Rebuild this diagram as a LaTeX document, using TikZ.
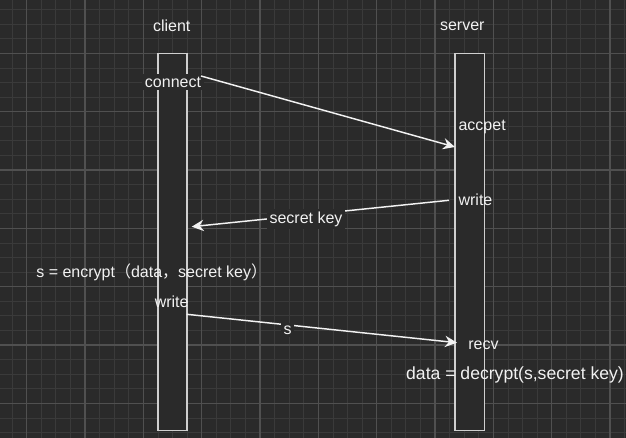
\documentclass[tikz,border=0pt]{standalone}
\usepackage{fontspec}
\setmainfont{Liberation Sans}
\newfontfamily\cjk{Noto Sans CJK SC}
\usetikzlibrary{arrows.meta}

\definecolor{bgdark}{HTML}{2A2A2A}
\definecolor{gridminor}{HTML}{3A3A3A}
\definecolor{gridmajor}{HTML}{505050}
\definecolor{boxline}{HTML}{CFCFCF}
\definecolor{txt}{HTML}{F2F2F2}

\begin{document}
\begin{tikzpicture}[x=0.75pt, y=-0.75pt]
        \tikzset{
            life/.style={draw=boxline, fill=bgdark, line width=1.1pt, minimum height=283pt, minimum width=21.8pt, inner sep=0pt},
            lbl/.style={text=txt, font=\fontsize{12}{14}\selectfont, inner sep=1pt},
            tag/.style={lbl, fill=bgdark, inner sep=2pt},
            msg/.style={draw=txt, line width=1.1pt, -{Stealth[length=9pt, width=8.5pt, inset=3pt]}}
        }

        % Background grid
        \useasboundingbox (0,0) rectangle (626,438);
        \fill[bgdark] (0,0) rectangle (626,438);
        \foreach \i in {-1,...,41}
            \draw[gridminor, line width=0.6pt] ({26.67+14.583*\i},0) -- ++(0,438);
        \foreach \i in {-3,...,26}
            \draw[gridminor, line width=0.6pt] (0,{53.33+14.583*\i}) -- ++(626,0);
        \foreach \i in {0,...,10}
            \draw[gridmajor, line width=0.8pt] ({26.67+58.33*\i},0) -- ++(0,438);
        \foreach \i in {0,...,6}
            \draw[gridmajor, line width=0.8pt] (0,{53.33+58.33*\i}) -- ++(626,0);

        % Lifelines
        \node[lbl] (client) at (171.7,26) {client};
        \node[lbl] (server) at (462.3,26) {server};
        \node[life] (clientbox) at (172.5,242) {};
        \node[life] (serverbox) at (469.7,242) {};

        % Points on the lifelines
        \coordinate (conOut) at (201,76);
        \coordinate (accIn) at (455,147);
        \coordinate (keyOut) at (449,200.3);
        \coordinate (keyIn) at (191.7,226.7);
        \coordinate (sOut) at (186.7,314.3);
        \coordinate (sIn) at (457,342.7);

        % Client side
        \node[tag] (connect) at (173,82) {connect};
        \node[lbl] (encrypt) at (151.7,272.7) {s = encrypt{\cjk （}data{\cjk ，}secret key{\cjk ）}};
        \node[lbl] (cwrite) at (171.7,301.7) {write};

        % Server side
        \node[lbl, anchor=west] (accept) at (457,127.3) {accpet};
        \node[lbl, anchor=west] (swrite) at (457,200) {write};
        \node[lbl, anchor=west] (recv) at (466.7,345) {recv};
        \node[lbl, font=\fontsize{13.2}{15}\selectfont] (decrypt) at (515,375) {data = decrypt(s,secret key)};

        % Messages
        \draw[msg] (conOut) -- (accIn);
        \draw[msg] (keyOut) -- (keyIn);
        \node[tag] (key) at (306,219.3) {secret key};
        \draw[msg] (sOut) -- (sIn);
        \node[tag] (s) at (287.5,330) {s};
\end{tikzpicture}
\end{document}
